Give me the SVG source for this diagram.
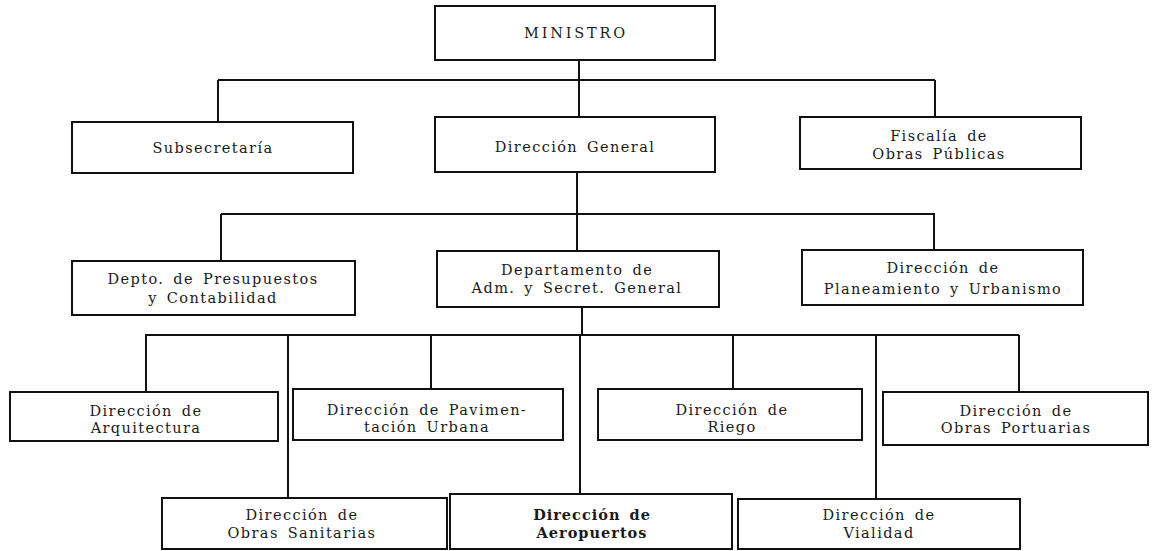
<svg xmlns="http://www.w3.org/2000/svg" width="1153" height="551" viewBox="0 0 1153 551">
<style>
  .box { fill: #ffffff; stroke: #111111; stroke-width: 2; }
  .lbl { font-family: "DejaVu Serif", "Liberation Serif", serif; font-size: 14.5px; letter-spacing: 1.4px; word-spacing: 3px; fill: #1a1a1a; text-anchor: middle; }
  .wide { letter-spacing: 2.8px; }
  .bold { font-weight: bold; letter-spacing: 1px; }
  .conn { stroke: #111111; stroke-width: 2; fill: none; }
</style>
<rect width="1153" height="551" fill="#ffffff"/>
<g id="connectors">
  <path class="conn" d="M579 60 V117 M218 80 H935 M218 80 V122 M935 80 V117"/>
  <path class="conn" d="M577 172 V251 M221 214 H935 M221 214 V261 M934 214 V250"/>
  <path class="conn" d="M582 307 V335 M145 335 H1019 M146 335 V392 M288 335 V498 M431 335 V389 M580 335 V494 M733 335 V389 M876 335 V499 M1019 335 V392"/>
</g>
<g id="ministro">
  <rect class="box" x="435" y="6" width="280" height="54"/>
  <text class="lbl wide" x="576" y="38">MINISTRO</text>
</g>
<g id="subsecretaria">
  <rect class="box" x="72" y="122" width="281" height="51"/>
  <text class="lbl" x="213" y="153">Subsecretaría</text>
</g>
<g id="direccion-general">
  <rect class="box" x="435" y="117" width="280" height="55"/>
  <text class="lbl" x="575" y="152">Dirección General</text>
</g>
<g id="fiscalia">
  <rect class="box" x="800" y="117" width="281" height="52"/>
  <text class="lbl" x="939" y="141">Fiscalía de</text>
  <text class="lbl" x="939" y="159">Obras Públicas</text>
</g>
<g id="presupuestos">
  <rect class="box" x="72" y="261" width="283" height="54"/>
  <text class="lbl" x="213" y="284">Depto. de Presupuestos</text>
  <text class="lbl" x="213" y="303">y Contabilidad</text>
</g>
<g id="administracion">
  <rect class="box" x="437" y="251" width="282" height="56"/>
  <text class="lbl" x="577" y="275">Departamento de</text>
  <text class="lbl" x="577" y="293">Adm. y Secret. General</text>
</g>
<g id="planeamiento">
  <rect class="box" x="802" y="250" width="281" height="55"/>
  <text class="lbl" x="943" y="273">Dirección de</text>
  <text class="lbl" x="943" y="294">Planeamiento y Urbanismo</text>
</g>
<g id="arquitectura">
  <rect class="box" x="10" y="392" width="268" height="49"/>
  <text class="lbl" x="146" y="416">Dirección de</text>
  <text class="lbl" x="146" y="433">Arquitectura</text>
</g>
<g id="pavimentacion">
  <rect class="box" x="293" y="389" width="270" height="51"/>
  <text class="lbl" x="427" y="415">Dirección de Pavimen-</text>
  <text class="lbl" x="427" y="432">tación Urbana</text>
</g>
<g id="riego">
  <rect class="box" x="598" y="389" width="264" height="51"/>
  <text class="lbl" x="732" y="415">Dirección de</text>
  <text class="lbl" x="732" y="432">Riego</text>
</g>
<g id="portuarias">
  <rect class="box" x="883" y="392" width="265" height="53"/>
  <text class="lbl" x="1016" y="416">Dirección de</text>
  <text class="lbl" x="1016" y="433">Obras Portuarias</text>
</g>
<g id="sanitarias">
  <rect class="box" x="162" y="498" width="285" height="51"/>
  <text class="lbl" x="302" y="520">Dirección de</text>
  <text class="lbl" x="302" y="538">Obras Sanitarias</text>
</g>
<g id="aeropuertos">
  <rect class="box" x="450" y="494" width="282" height="55"/>
  <text class="lbl bold" x="592" y="520">Dirección de</text>
  <text class="lbl bold" x="592" y="538">Aeropuertos</text>
</g>
<g id="vialidad">
  <rect class="box" x="738" y="499" width="282" height="50"/>
  <text class="lbl" x="879" y="520">Dirección de</text>
  <text class="lbl" x="879" y="538">Vialidad</text>
</g>
</svg>
